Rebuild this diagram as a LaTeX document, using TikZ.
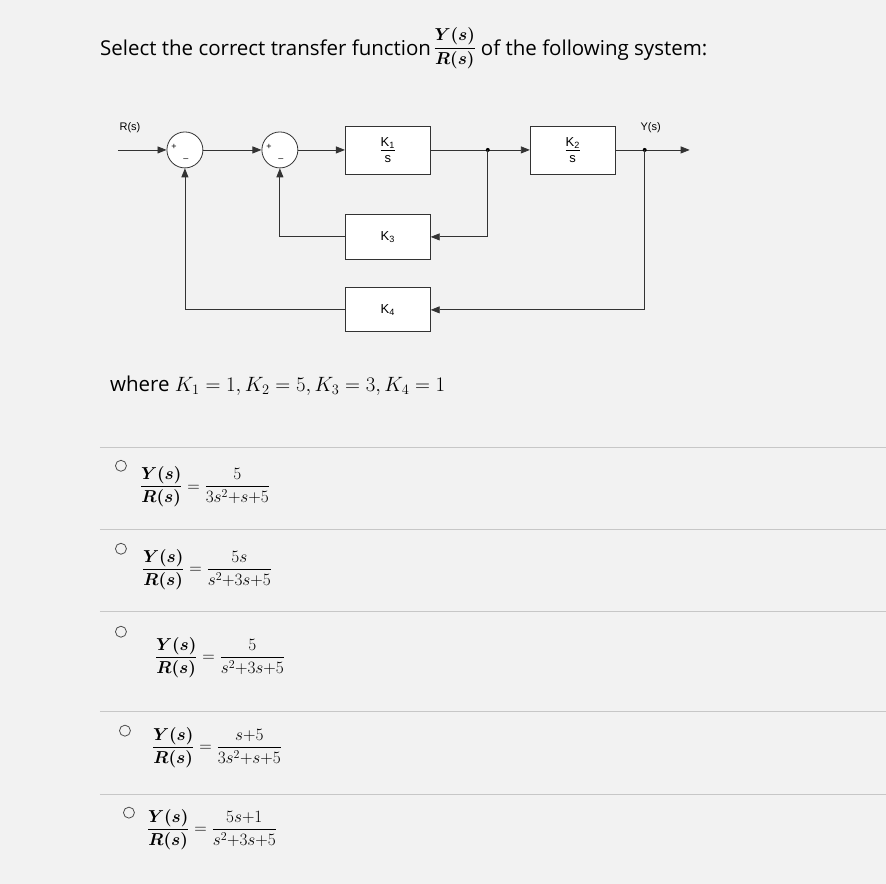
\documentclass[tikz,border=0pt]{standalone}
\usepackage{fontspec}
\setmainfont{Open Sans}
\setsansfont{Liberation Sans}
\usepackage{amsmath}
\usetikzlibrary{arrows.meta}
\newcommand{\kk}[1]{K\textsubscript{#1}}
\begin{document}
\begin{tikzpicture}[x=1pt,y=-1pt,
  blk/.style={draw=black!80,line width=0.8pt,fill=white,minimum width=85pt,minimum height=48pt,inner sep=0pt,font=\sffamily\fontsize{13}{15}\selectfont,align=center},
  sumc/.style={draw=black!80,line width=0.8pt,fill=white,circle,minimum size=36pt,inner sep=0pt},
  wire/.style={line width=0.8pt,black!80},
  arr/.style={wire,-{Triangle[length=9pt,width=7pt]}},
  lab/.style={font=\sffamily\fontsize{11}{13}\selectfont},
  txt/.style={font=\fontsize{20.5}{24}\selectfont,anchor=base west,inner sep=0pt},
  opt/.style={font=\fontsize{18}{22}\selectfont},
  radio/.style={draw=black!70,circle,minimum size=11pt,inner sep=0pt,line width=0.8pt},
  sep/.style={black!22,line width=0.8pt}]
\fill[black!5] (0,0) rectangle (886,884);
% title
\node[txt] (t1) at (100,56) {Select the correct transfer function};
\node[font=\fontsize{18}{20}\selectfont,inner sep=0pt] (tf) at (455,48) {$\dfrac{\boldsymbol{Y(s)}}{\boldsymbol{R(s)}}$};
\node[txt] (t2) at (481,56) {of the following system:};
% diagram
\node[sumc] (s1) at (185,150) {};
\node[sumc] (s2) at (280,150) {};
\node[font=\sffamily\fontsize{9}{9}\selectfont] (p1) at (174,147) {+};
\node[font=\sffamily\fontsize{9}{9}\selectfont] (m1) at (186,160) {--};
\node[font=\sffamily\fontsize{9}{9}\selectfont] (p2) at (269,147) {+};
\node[font=\sffamily\fontsize{9}{9}\selectfont] (m2) at (281,160) {--};
\node[blk] (k1) at (388,150) {\underline{\kk1}\\[1pt]s};
\node[blk] (k2) at (573,150) {\underline{\kk2}\\[1pt]s};
\node[blk,minimum height=46pt] (k3) at (388,237) {\kk3};
\node[blk,minimum height=44pt] (k4) at (388,310) {\kk4};
\coordinate (in) at (118,150);
\coordinate (j1) at (488,150);
\coordinate (j2) at (645,150);
\coordinate (out) at (690,150);
\node[lab] (rl) at (130,128) {R(s)};
\node[lab] (yl) at (651,128) {Y(s)};
\draw[arr] (in) -- (s1);
\draw[arr] (s1) -- (s2);
\draw[arr] (s2) -- (k1);
\draw[wire] (k1) -- (j1);
\draw[arr] (j1) -- (k2);
\draw[wire] (k2) -- (j2);
\draw[arr] (j2) -- (out);
\fill (j1) circle (2pt) (j2) circle (2pt);
\draw[arr] (j1) |- (k3);
\draw[arr] (k3.west) -| (s2.south);
\draw[arr] (j2) |- (k4);
\draw[arr] (k4.west) -| (s1.south);
\node[txt] (w) at (110,392) {where \fontsize{21}{24}\selectfont$K_1=1, K_2=5, K_3=3, K_4=1$};
% separators
\foreach \yy in {448,530,612,712,795} \draw[sep] (100,\yy) -- (886,\yy);
% options
\node[radio] (r1) at (121,466) {};
\node[opt] (a1) at (205,487) {$\dfrac{\boldsymbol{Y(s)}}{\boldsymbol{R(s)}}=\dfrac{5}{3s^2{+}s{+}5}$};
\node[radio] (r2) at (121,549) {};
\node[opt] (a2) at (207,570) {$\dfrac{\boldsymbol{Y(s)}}{\boldsymbol{R(s)}}=\dfrac{5s}{s^2{+}3s{+}5}$};
\node[radio] (r3) at (121,632) {};
\node[opt] (a3) at (220,658) {$\dfrac{\boldsymbol{Y(s)}}{\boldsymbol{R(s)}}=\dfrac{5}{s^2{+}3s{+}5}$};
\node[radio] (r4) at (125,731) {};
\node[opt] (a4) at (217,748) {$\dfrac{\boldsymbol{Y(s)}}{\boldsymbol{R(s)}}=\dfrac{s{+}5}{3s^2{+}s{+}5}$};
\node[radio] (r5) at (129,813) {};
\node[opt] (a5) at (212,830) {$\dfrac{\boldsymbol{Y(s)}}{\boldsymbol{R(s)}}=\dfrac{5s{+}1}{s^2{+}3s{+}5}$};
\end{tikzpicture}
\end{document}
